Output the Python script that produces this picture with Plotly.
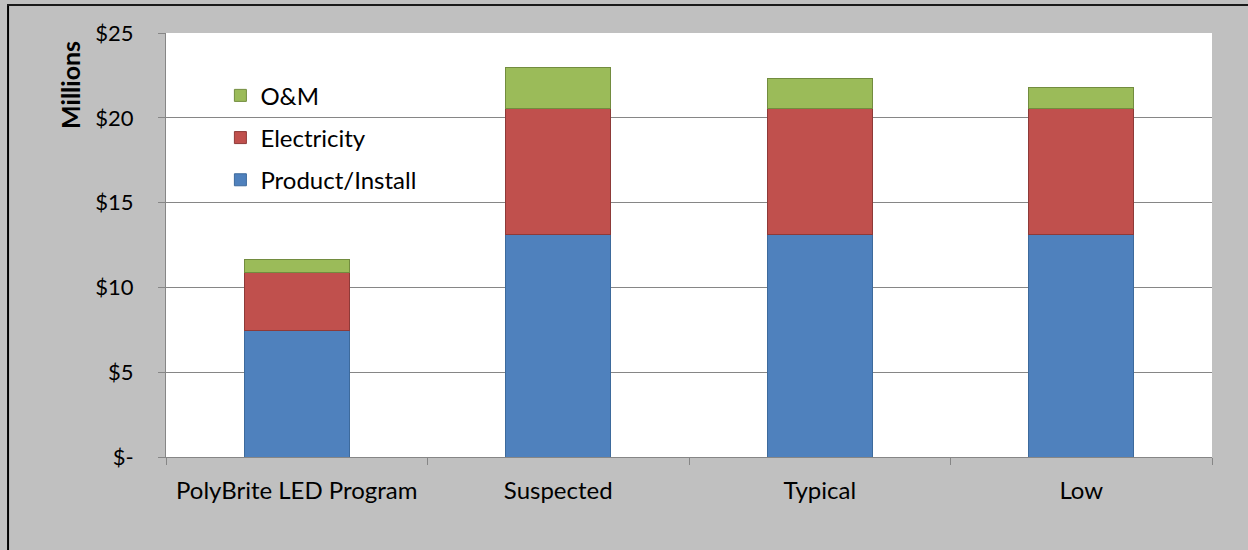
import plotly.graph_objects as go

# Cost breakdown by scenario (millions of dollars)
scenarios = ["PolyBrite LED Program", "Suspected", "Typical", "Low"]
product_install = [7.45, 13.09, 13.09, 13.09]
electricity = [3.44, 7.47, 7.47, 7.47]
o_and_m = [0.77, 2.42, 1.77, 1.21]

y_tick_vals = [0, 5, 10, 15, 20, 25]
y_tick_text = ["$-", "$5", "$10", "$15", "$20", "$25"]

FONT = "Lato"

# name, values, fill, outline, legend rank (top entry first)
series = [
    ("Product/Install", product_install, "#4f81bd", "#3d6a9c", 3),
    ("Electricity", electricity, "#c0504d", "#8e3a38", 2),
    ("O&M", o_and_m, "#9bbb59", "#728c3f", 1),
]

fig = go.Figure()
for name, vals, fill, edge, rank in series:
    fig.add_trace(go.Bar(
        x=scenarios, y=vals, name=name, legendgroup=name, legendrank=rank,
        marker=dict(color=fill, line=dict(color=edge, width=1)),
    ))

fig.update_layout(
    width=1248, height=550,
    barmode="stack", bargap=0.6,
    paper_bgcolor="#c0c0c0", plot_bgcolor="#ffffff",
    margin=dict(l=166, r=36, t=33, b=93),
    font=dict(family=FONT, size=24, color="#000000"),
    showlegend=True,
    legend=dict(
        x=0.052, y=0.905, xanchor="left", yanchor="top",
        bgcolor="rgba(0,0,0,0)", traceorder="grouped",
        tracegroupgap=8, font=dict(family=FONT, size=24),
        itemwidth=30,
    ),
    xaxis=dict(
        showline=True, linecolor="#868686", linewidth=1,
        ticks="outside", tickson="boundaries", ticklen=7, tickcolor="#868686",
        showgrid=False, ticklabelstandoff=12,
        tickfont=dict(family=FONT, size=24),
    ),
    yaxis=dict(
        range=[0, 25], tickvals=y_tick_vals, ticktext=y_tick_text,
        showline=True, linecolor="#868686", linewidth=1,
        ticks="outside", ticklen=7, tickcolor="#868686",
        showgrid=True, gridcolor="#868686", gridwidth=1,
        zeroline=False, ticklabelstandoff=20,
        tickfont=dict(family=FONT, size=22),
    ),
    annotations=[dict(
        text="<b>Millions</b>", textangle=-90, showarrow=False,
        xref="paper", yref="paper", x=-0.092, y=0.877,
        xanchor="center", yanchor="middle",
        font=dict(family=FONT, size=25, color="#000000"),
    )],
    shapes=[
        dict(type="line", xref="paper", yref="paper",
             x0=-0.151, x1=-0.151, y0=1.066, y1=-0.3,
             line=dict(color="#000000", width=2)),
        dict(type="line", xref="paper", yref="paper",
             x0=-0.152, x1=1.1, y0=1.066, y1=1.066,
             line=dict(color="#1a1a1a", width=2)),
    ],
)

fig.write_html("out.html")
